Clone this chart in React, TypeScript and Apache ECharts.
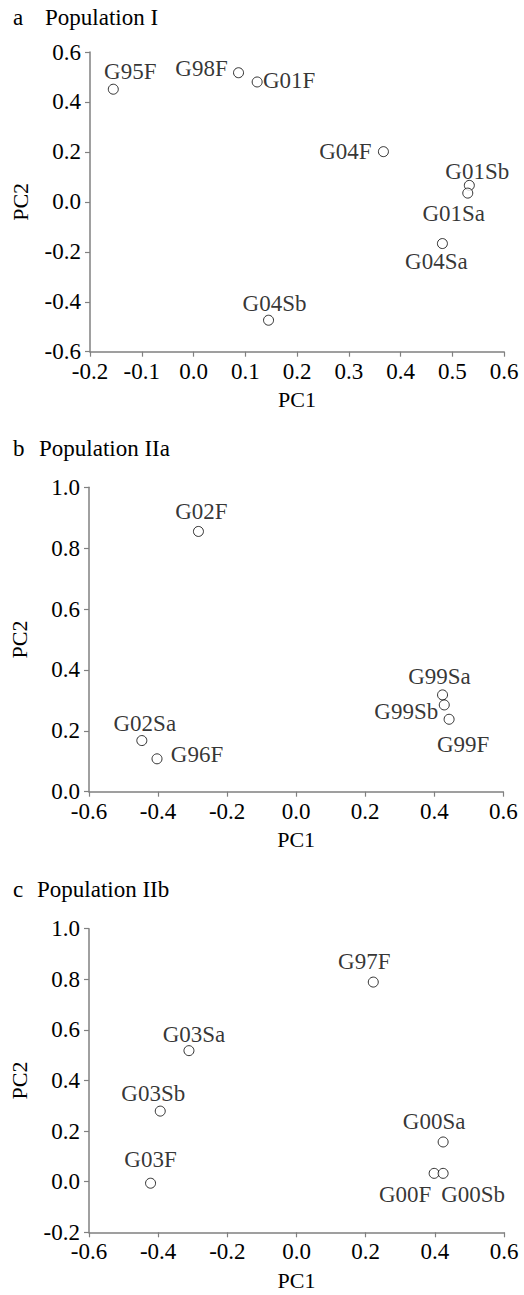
import React, { useEffect, useRef } from "react";
import * as echarts from "echarts";

// Panel a: Population I
const popINames = ["G95F", "G98F", "G01F", "G04F", "G01Sb", "G01Sa", "G04Sa", "G04Sb"];
const popIPC1 = [-0.155, 0.087, 0.123, 0.367, 0.533, 0.530, 0.481, 0.145];
const popIPC2 = [0.451, 0.517, 0.480, 0.201, 0.066, 0.035, -0.167, -0.474];
const popILabelOffsets = [[17, -18], [-37, -4], [32, -1], [-38, 0], [8, -14], [-14, 20], [-6, 18], [6, -17]];

// Panel b: Population IIa
const popIIaNames = ["G02F", "G02Sa", "G96F", "G99Sa", "G99Sb", "G99F"];
const popIIaPC1 = [-0.283, -0.447, -0.403, 0.424, 0.429, 0.443];
const popIIaPC2 = [0.855, 0.168, 0.108, 0.318, 0.285, 0.238];
const popIIaLabelOffsets = [[3, -20], [3, -17], [40, -4], [-3, -18], [-38, 7], [14, 25]];

// Panel c: Population IIb
const popIIbNames = ["G97F", "G03Sa", "G03Sb", "G03F", "G00Sa", "G00F", "G00Sb"];
const popIIbPC1 = [0.222, -0.311, -0.394, -0.422, 0.424, 0.398, 0.424];
const popIIbPC2 = [0.789, 0.518, 0.279, -0.006, 0.157, 0.033, 0.033];
const popIIbLabelOffsets = [[-9, -21], [5, -16], [-7, -18], [0, -24], [-9, -20], [-29, 21], [30, 21]];

const panelLetters = ["a", "b", "c"];
const panelTitles = ["Population I", "Population IIa", "Population IIb"];
const xAxisName = "PC1";
const yAxisName = "PC2";

const FONT = "'Liberation Serif', 'Times New Roman', serif";
const AXIS_COLOR = "#808080";

function fmt(v: number) {
  if (Math.abs(v) < 1e-9) return "0.0";
  return v.toFixed(1);
}

function buildData(names: string[], xs: number[], ys: number[], offs: number[][]) {
  return names.map((n, i) => ({
    name: n,
    value: [xs[i], ys[i]],
    label: { offset: offs[i] },
  }));
}

export default function App() {
  const ref = useRef<HTMLDivElement>(null);
  useEffect(() => {
    if (!ref.current) return;
    const chart = echarts.init(ref.current, undefined, { renderer: "svg" });
    const grids = [
      { left: 90, top: 52, width: 414, height: 299.7 },
      { left: 84.3, top: 487.3, width: 419, height: 304.4 },
      { left: 83.7, top: 928.7, width: 420.3, height: 303.6 },
    ];
    const xRanges = [
      { min: -0.2, max: 0.6, interval: 0.1 },
      { min: -0.6, max: 0.6, interval: 0.2 },
      { min: -0.6, max: 0.6, interval: 0.2 },
    ];
    const yRanges = [
      { min: -0.6, max: 0.6, interval: 0.2 },
      { min: 0, max: 1.0, interval: 0.2 },
      { min: -0.2, max: 1.0, interval: 0.2 },
    ];
    const axisCommon = {
      axisLine: { show: true, onZero: false, lineStyle: { color: AXIS_COLOR, width: 1.5 } },
      axisTick: { show: true, inside: false, length: 5, lineStyle: { color: AXIS_COLOR, width: 1.2 } },
      splitLine: { show: false },
      nameLocation: "middle" as const,
      nameTextStyle: { fontFamily: FONT, fontSize: 22, color: "#000" },
    };
    const xAxes = xRanges.map((r, i) => ({
      type: "value",
      gridIndex: i,
      ...r,
      ...axisCommon,
      name: xAxisName,
      nameGap: 37,
      axisLabel: { fontFamily: FONT, fontSize: 23, color: "#000", margin: 8, formatter: fmt },
    }));
    const yAxes = yRanges.map((r, i) => ({
      type: "value",
      gridIndex: i,
      ...r,
      ...axisCommon,
      name: yAxisName,
      nameGap: 59,
      nameRotate: 90,
      axisLabel: { fontFamily: FONT, fontSize: 23, color: "#000", margin: 9, formatter: fmt },
    }));
    const datasets = [
      buildData(popINames, popIPC1, popIPC2, popILabelOffsets),
      buildData(popIIaNames, popIIaPC1, popIIaPC2, popIIaLabelOffsets),
      buildData(popIIbNames, popIIbPC1, popIIbPC2, popIIbLabelOffsets),
    ];
    const series = datasets.map((d, i) => ({
      type: "scatter",
      xAxisIndex: i,
      yAxisIndex: i,
      symbol: "circle",
      symbolSize: 10,
      itemStyle: { color: "#fff", borderColor: "#000", borderWidth: 1 },
      label: {
        show: true,
        position: "inside",
        formatter: "{b}",
        fontFamily: FONT,
        fontSize: 23,
        color: "#000",
      },
      emphasis: { disabled: true },
      data: d,
    }));
    const titleY = [20, 451, 892];
    const letterX = [13, 13, 13];
    const titleX = [45, 39, 37];
    const graphics: any[] = [];
    for (let i = 0; i < 3; i++) {
      graphics.push({
        type: "text",
        left: letterX[i],
        top: titleY[i] - 14,
        style: { text: panelLetters[i], font: `23px ${FONT}`, fill: "#000" },
      });
      graphics.push({
        type: "text",
        left: titleX[i],
        top: titleY[i] - 14,
        style: { text: panelTitles[i], font: `23px ${FONT}`, fill: "#000" },
      });
    }
    chart.setOption({
      animation: false,
      backgroundColor: "#fff",
      grid: grids,
      xAxis: xAxes,
      yAxis: yAxes,
      series,
      graphic: graphics,
    });
    return () => chart.dispose();
  }, []);
  return (
    <div
      ref={ref}
      style={{ position: "absolute", left: 0, top: 0, width: 524, height: 1295, background: "#fff" }}
    />
  );
}
